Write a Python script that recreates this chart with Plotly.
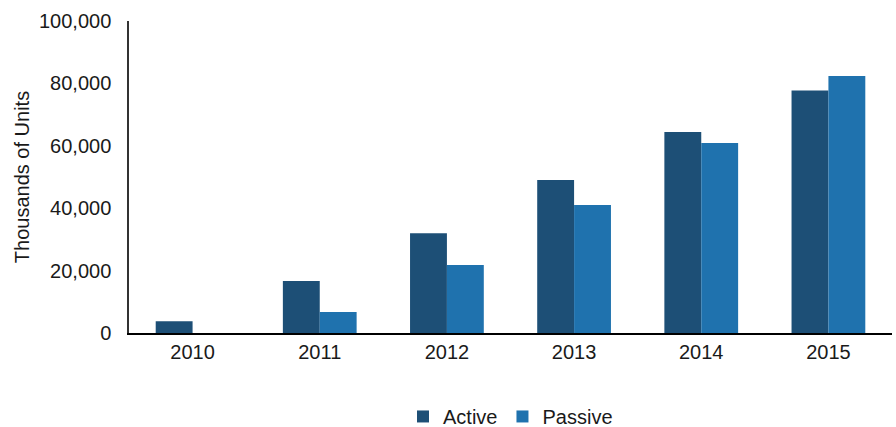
import plotly.graph_objects as go

years = ["2010", "2011", "2012", "2013", "2014", "2015"]
active = [3800, 16700, 32000, 49000, 64400, 77700]
passive = [0, 6700, 21800, 41000, 60900, 82400]
y_ticks = [0, 20000, 40000, 60000, 80000, 100000]

font = dict(family="Liberation Sans, Arial, sans-serif", size=20, color="#1a1a1a")

fig = go.Figure()
fig.add_trace(go.Bar(x=years, y=active, name="Active", marker=dict(color="#1d4f76", line=dict(width=0))))
fig.add_trace(go.Bar(x=years, y=passive, name="Passive", marker=dict(color="#1f72ae", line=dict(width=0))))

fig.update_layout(
    width=896, height=427,
    margin=dict(l=129, r=4, t=21, b=94, autoexpand=False),
    paper_bgcolor="white", plot_bgcolor="white",
    font=font,
    barmode="group", bargap=0.42, bargroupgap=0,
    showlegend=True,
    legend=dict(orientation="h", x=0.5, xanchor="center", y=-0.205, yanchor="top",
                font=font, itemwidth=30, traceorder="normal"),
    xaxis=dict(showline=True, linecolor="black", linewidth=1.5, ticks="", showgrid=False,
               tickfont=font),
    yaxis=dict(range=[0, 100000], tickvals=y_ticks, tickformat=",", showline=True,
               linecolor="#333333", linewidth=1.5, showgrid=False, zeroline=False, ticks="",
               ticklabelstandoff=12,
               tickfont=font, title=dict(text="Thousands of Units", font=font, standoff=4)),
)

fig.write_html("out.html")
